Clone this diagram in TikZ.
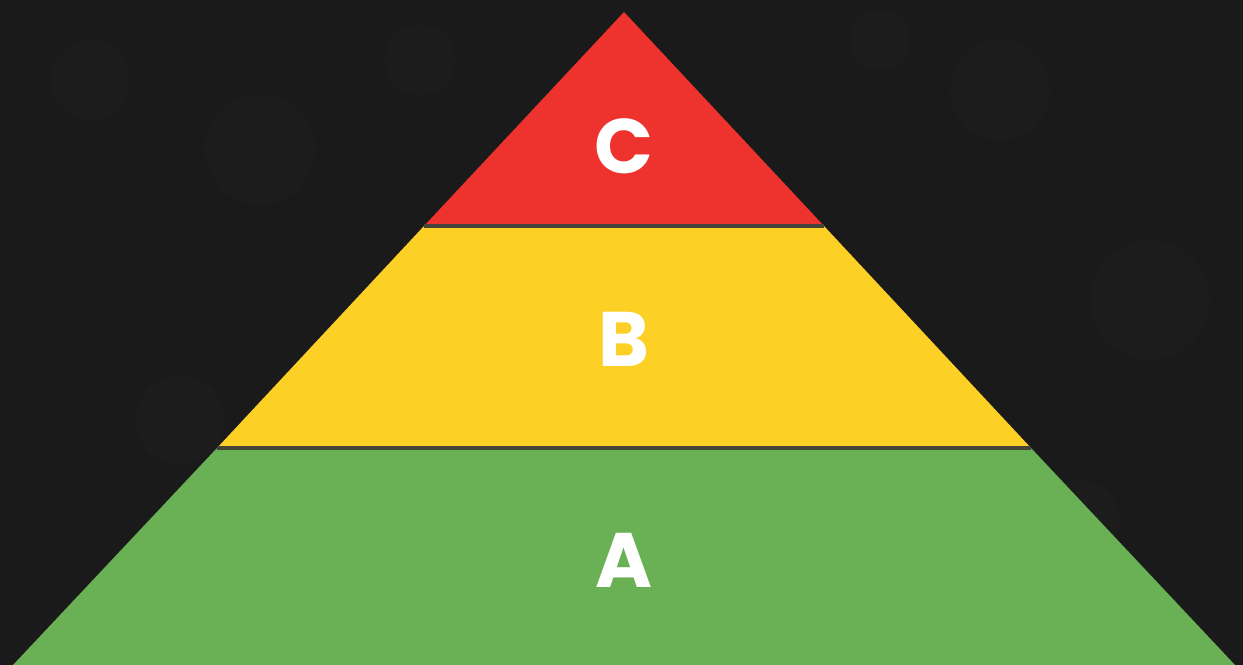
\documentclass[tikz,border=0pt]{standalone}
\usepackage{fontspec}
\setmainfont{Poppins}
\usepackage{xcolor}
\definecolor{slate}{RGB}{26,26,26}
\definecolor{slatelight}{RGB}{40,40,40}
\definecolor{topred}{RGB}{238,50,46}
\definecolor{midyellow}{RGB}{253,208,38}
\definecolor{basegreen}{RGB}{106,177,85}
\definecolor{divider}{RGB}{70,68,56}

\begin{document}
\begin{tikzpicture}[x=0.02cm, y=-0.02cm, every node/.style={font=\fontsize{44}{44}\selectfont\bfseries, text=white}]

% background
\fill[slate] (0,0) rectangle (1243,665);
\useasboundingbox (0,0) rectangle (1243,665);
\foreach \px/\py/\r in {90/80/40, 260/150/55, 180/420/45, 1000/90/50, 1150/300/60, 1080/520/40, 420/60/35, 880/40/30}
  \fill[slatelight, opacity=0.15] (\px,\py) circle (\r);

% pyramid corners
\coordinate (apex) at (624, 12);
\coordinate (bl) at (13, 665);
\coordinate (br) at (1235, 665);
\coordinate (cl) at (424, 226);
\coordinate (cr) at (824, 226);
\coordinate (bbl) at (217, 448);
\coordinate (bbr) at (1031, 448);

% layers
\fill[basegreen] (bbl) -- (bbr) -- (br) -- (bl) -- cycle;
\fill[midyellow] (cl) -- (cr) -- (bbr) -- (bbl) -- cycle;
\fill[topred] (apex) -- (cr) -- (cl) -- cycle;
\draw[divider, line width=2pt] (cl) -- (cr);
\draw[divider, line width=2pt] (bbl) -- (bbr);

% labels
\node (c) at (624, 146) {C};
\node (b) at (624, 339) {B};
\node (a) at (624, 560) {A};

\end{tikzpicture}
\end{document}
